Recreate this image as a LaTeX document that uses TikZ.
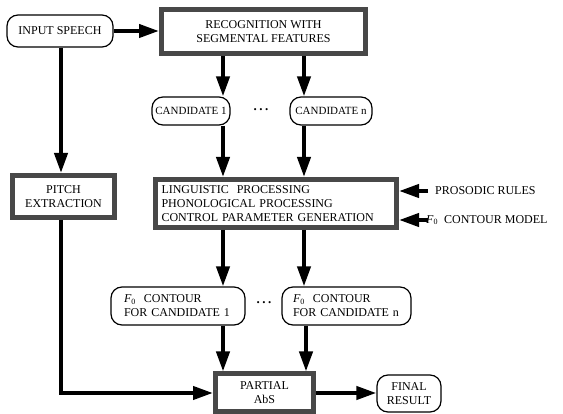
\documentclass[tikz,border=0pt]{standalone}
\usepackage{fontspec}
\setmainfont{Liberation Serif}
\usetikzlibrary{arrows.meta}
\definecolor{heavygray}{RGB}{72,72,72}
\newcommand{\mydots}{\textbf{.\hspace{2.6pt}.\hspace{2.6pt}.}}
\begin{document}
\begin{tikzpicture}[x=1pt,y=-1pt,
  txt/.style={font=\fontsize{12}{14}\selectfont},
  heavy/.style={txt, draw=heavygray, line width=5pt, fill=white, align=center, inner sep=0pt},
  soft/.style={txt, draw=black, line width=1.2pt, rounded corners=11pt, fill=white, align=center, inner sep=0pt},
  arr/.style={line width=4pt, -{Triangle[length=20pt,width=13pt]}},
  lbl/.style={txt, inner sep=0pt, anchor=west},
  dotsnode/.style={font=\fontsize{13}{14}\selectfont, inner sep=0pt}]
\useasboundingbox (0,0) rectangle (563,414);
% nodes
\node[soft, minimum width=106pt, minimum height=32pt] (inp) at (60,31) {INPUT SPEECH};
\node[heavy, minimum width=204pt, minimum height=44pt] (rec) at (263.5,31.5) {RECOGNITION WITH\\SEGMENTAL FEATURES};
\node[soft, minimum width=78pt, minimum height=28pt, font=\fontsize{11}{13}\selectfont] (c1) at (191,111) {CANDIDATE 1};
\node[soft, minimum width=82pt, minimum height=28pt, font=\fontsize{11}{13}\selectfont] (cn) at (331,111) {CANDIDATE n};
\node[dotsnode] (d1) at (261,110) {\mydots};
\node[heavy, minimum width=102pt, minimum height=42pt] (pitch) at (63.5,196.5) {PITCH\\EXTRACTION};
\node[heavy, align=left, inner xsep=6pt, text width=229pt, minimum height=48pt] (ling) at (276,203.5)
  {LINGUISTIC\ \ PROCESSING\\PHONOLOGICAL PROCESSING\\CONTROL PARAMETER GENERATION};
\node[lbl] (pr) at (435,191) {PROSODIC RULES};
\node[lbl] (fm) at (426,220) {\textit{F}\textsubscript{0}\ \ CONTOUR MODEL};
\node[soft, align=left, inner xsep=13pt, text width=108pt, minimum height=38pt] (f1) at (178,306)
  {\textit{F}\textsubscript{0}\ \ CONTOUR\\FOR CANDIDATE 1};
\node[soft, align=left, inner xsep=11pt, text width=107pt, minimum height=38pt] (fn) at (346.5,306)
  {\textit{F}\textsubscript{0}\ \ CONTOUR\\FOR CANDIDATE n};
\node[dotsnode] (d2) at (264,303) {\mydots};
\node[heavy, minimum width=98pt, minimum height=38pt] (partial) at (264.5,393) {PARTIAL\\AbS};
\node[soft, minimum width=64pt, minimum height=37pt] (final) at (409,393.5) {FINAL\\RESULT};
% helper coordinates
\coordinate (xl) at (61,0);
\coordinate (xa) at (223,0);
\coordinate (xb) at (304,0);
\coordinate (xc) at (306,0);
\coordinate (pa) at (428,191);
\coordinate (fa) at (428,220);
% connectors
\draw[arr] (inp.east) -- (rec.west |- inp.east);
\draw[arr] (rec.south -| xa) -- (c1.north -| xa);
\draw[arr] (rec.south -| xb) -- (cn.north -| xb);
\draw[arr] (c1.south -| xa) -- (ling.north -| xa);
\draw[arr] (cn.south -| xb) -- (ling.north -| xb);
\draw[arr] (ling.south -| xa) -- (f1.north -| xa);
\draw[arr] (ling.south -| xb) -- (fn.north -| xb);
\draw[arr] (f1.south -| xa) -- (partial.north -| xa);
\draw[arr] (fn.south -| xc) -- (partial.north -| xc);
\draw[arr] (inp.south -| xl) -- (pitch.north -| xl);
\draw[arr] (pitch.south -| xl) |- (partial.west);
\draw[arr] (partial.east) -- (final.west |- partial.east);
\draw[arr] (pa) -- (ling.east |- pa);
\draw[arr] (fa) -- (ling.east |- fa);
\end{tikzpicture}
\end{document}
